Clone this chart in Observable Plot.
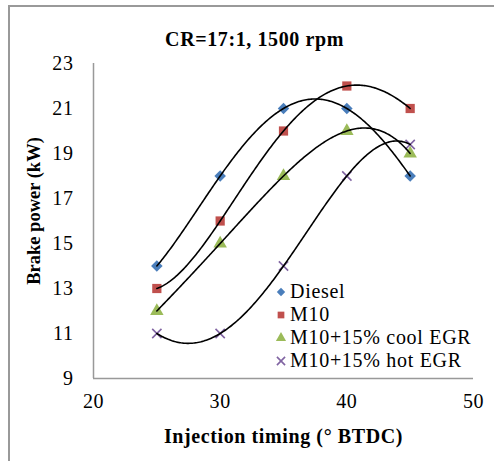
<!DOCTYPE html>
<html>
<head>
<meta charset="utf-8">
<script src="https://cdn.jsdelivr.net/npm/d3@7"></script>
<script src="https://cdn.jsdelivr.net/npm/@observablehq/plot@0.6"></script>
<style>
  html, body { margin: 0; padding: 0; background: #fff; }
  #wrap { position: relative; width: 494px; height: 461px; overflow: hidden; font-family: "Liberation Serif", "Times New Roman", serif; }
  #border { position: absolute; left: 8px; top: 5px; width: 600px; height: 600px; border-left: 2px solid #999; border-top: 2px solid #999; box-sizing: border-box; }
  #legend { position: absolute; left: 274px; top: 280px; font-size: 20px; letter-spacing: 0.7px; line-height: 23px; color: #000; }
  #legend .row { display: flex; align-items: center; white-space: nowrap; }
  #legend svg { width: 14px; height: 14px; margin-right: 2px; }
  #chart svg, #chart svg text { font-family: "Liberation Serif", "Times New Roman", serif !important; }
  #chart svg text { letter-spacing: 0.6px; }
  #chart svg text.ytitle { letter-spacing: 0; }
</style>
</head>
<body>
<div id="wrap">
  <div id="border"></div>
  <div id="chart"></div>
  <div id="legend"></div>
</div>
<script>
const timing = [25, 30, 35, 40, 45];
const diesel = [14, 18, 21, 21, 18];
const m10 = [13, 16, 20, 22, 21];
const coolEGR = [12, 15, 18, 20, 19];
const hotEGR = [11, 11, 14, 18, 19.4];
const seriesNames = ["Diesel", "M10", "M10+15% cool EGR", "M10+15% hot EGR"];
const seriesValues = [diesel, m10, coolEGR, hotEGR];
const colors = ["#4a7ebb", "#c0504d", "#9bbb59", "#8064a2"];
const symbols = ["diamond2", "square", "triangle", "times"];
const xTicks = [20, 30, 40, 50];
const yTicks = [9, 11, 13, 15, 17, 19, 21, 23];

const points = [];
seriesNames.forEach((s, i) => timing.forEach((t, j) => points.push({series: s, x: t, y: seriesValues[i][j]})));

// 4th-order polynomial trendline (Excel-style) through each series
function polyFit(xs, ys, deg) {
  const n = deg + 1;
  const A = Array.from({length: n}, () => new Array(n + 1).fill(0));
  const x0 = 35;
  for (let k = 0; k < xs.length; k++) {
    const t = (xs[k] - x0) / 5;
    for (let r = 0; r < n; r++) {
      for (let c = 0; c < n; c++) A[r][c] += Math.pow(t, r + c);
      A[r][n] += ys[k] * Math.pow(t, r);
    }
  }
  for (let i = 0; i < n; i++) {
    let p = i;
    for (let r = i + 1; r < n; r++) if (Math.abs(A[r][i]) > Math.abs(A[p][i])) p = r;
    [A[i], A[p]] = [A[p], A[i]];
    for (let r = 0; r < n; r++) {
      if (r === i) continue;
      const f = A[r][i] / A[i][i];
      for (let c = i; c <= n; c++) A[r][c] -= f * A[i][c];
    }
  }
  const coef = A.map((row, i) => row[n] / row[i]);
  return x => { const t = (x - x0) / 5; return coef.reduce((s, c, i) => s + c * Math.pow(t, i), 0); };
}
const trend = [];
seriesNames.forEach((s, i) => {
  const f = polyFit(timing, seriesValues[i], 4);
  const lo = d3.min(timing), hi = d3.max(timing);
  for (let k = 0; k <= 200; k++) { const x = lo + (hi - lo) * k / 200; trend.push({series: s, x, y: f(x)}); }
});

const rVals = {"Diesel": 5.2, "M10": 5.2, "M10+15% cool EGR": 5, "M10+15% hot EGR": 4.3};
const serif = "'Liberation Serif', 'Times New Roman', serif";

const chart = Plot.plot({
  width: 494,
  height: 461,
  marginLeft: 93,
  marginRight: 21,
  marginTop: 63,
  marginBottom: 83,
  style: {background: "transparent", fontFamily: serif},
  x: {domain: [20, 50], label: null},
  y: {domain: [9, 23], label: null},
  marks: [
    Plot.axisX({ticks: xTicks, tickSize: 0, tickPadding: 15, fontSize: 20, label: null, fill: "#000"}),
    Plot.axisY({ticks: yTicks, tickSize: 0, tickPadding: 20, fontSize: 20, label: null, fill: "#000"}),
    Plot.ruleX([20], {stroke: "#999", strokeWidth: 1.5}),
    Plot.ruleY([9], {stroke: "#999", strokeWidth: 1.5}),
    ...seriesNames.map((s, i) => Plot.dot(points.filter(d => d.series === s), {
      x: "x", y: "y", symbol: () => symbols[i], r: rVals[s],
      fill: i === 3 ? "none" : colors[i], stroke: i === 3 ? colors[i] : "none", strokeWidth: 1.6
    })),
    Plot.line(trend, {x: "x", y: "y", z: "series", stroke: "#000", strokeWidth: 1.6}),
    Plot.text(["CR=17:1, 1500 rpm"], {frameAnchor: "top", lineAnchor: "middle", dx: -29, dy: -24, fontSize: 20, fontWeight: "bold", fill: "#000", fontFamily: serif}),
    Plot.text(["Injection timing (° BTDC)"], {frameAnchor: "bottom", lineAnchor: "middle", dx: 0, dy: 58.5, fontSize: 20, fontWeight: "bold", fill: "#000", fontFamily: serif}),
    Plot.text(["Brake power (kW)"], {frameAnchor: "left", textAnchor: "middle", dx: -59, dy: -10, rotate: -90, fontSize: 18.5, fontWeight: "bold", fill: "#000", fontFamily: serif})
  ]
});
document.getElementById("chart").appendChild(chart);
d3.select(chart).selectAll("text").filter(function() { return this.textContent === "Brake power (kW)"; }).classed("ytitle", true);

const leg = d3.select("#legend");
const symMap = {diamond2: d3.symbolDiamond2, square: d3.symbolSquare, triangle: d3.symbolTriangle, times: d3.symbolTimes};
seriesNames.forEach((s, i) => {
  const row = leg.append("div").attr("class", "row");
  const svg = row.append("svg").attr("viewBox", "-7 -7 14 14");
  svg.append("path")
    .attr("d", d3.symbol(symMap[symbols[i]], 45)())
    .attr("fill", i === 3 ? "none" : colors[i])
    .attr("stroke", i === 3 ? colors[i] : "none")
    .attr("stroke-width", 1.6);
  row.append("span").text(s);
});
</script>
</body>
</html>
